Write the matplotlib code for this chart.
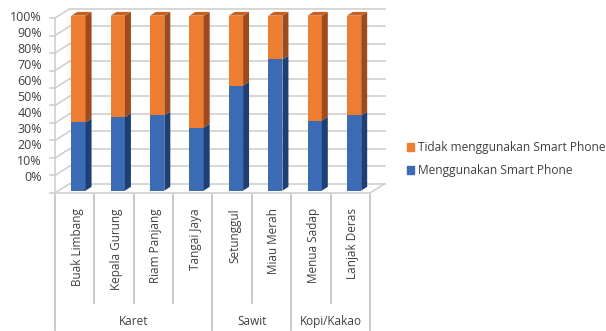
#!/usr/bin/env python3
"""Stacked 100% column chart (3-D look) of smart phone use per village."""
import numpy as np
import matplotlib
matplotlib.use('Agg')
import matplotlib.pyplot as plt
from matplotlib.patches import Polygon, Patch

plt.rcParams['font.family'] = ['Open Sans', 'DejaVu Sans']

villages = ['Buak Limbang', 'Kepala Gurung', 'Riam Panjang', 'Tangai Jaya',
            'Setunggul', 'Miau Merah', 'Menua Sadap', 'Lanjak Deras']
groups = ['Karet', 'Sawit', 'Kopi/Kakao']
group_sizes = [4, 2, 2]
pakai = [39, 42, 43, 36, 60, 75, 40, 43]          # Menggunakan Smart Phone (%)
tidak = [61, 58, 57, 64, 40, 25, 60, 57]          # Tidak menggunakan Smart Phone (%)
y_ticks = [0, 10, 20, 30, 40, 50, 60, 70, 80, 90, 100]

ORANGE, ORANGE_SIDE, ORANGE_TOP = '#ED7D31', '#9E4A1F', '#C8601F'
BLUE, BLUE_SIDE = '#3C6BB6', '#1E3F74'
GRID = '#D0D0D0'
TXT = '#404040'

# depth of the "3-D" box and of the bars, in data units
DX, DY = 0.38, 0.054
BAR_W = 0.363
BOFF = 0.25          # bars sit a quarter of the way into the box
BDEP = 0.40          # bar depth relative to the box

fig = plt.figure(figsize=(6.06, 3.31), dpi=100)
ax = fig.add_axes([0, 0, 1, 1])
ax.set_xlim(-1.397, 13.994)
ax.set_ylim(-0.789, 1.103)
ax.axis('off')

n = len(villages)
frac_p = np.array(pakai) / 100
frac_t = np.array(tidak) / 100

# back wall + side wall gridlines
for t in y_ticks:
    y = t / 100
    ax.plot([DX, n + DX], [y + DY, y + DY], color=GRID, lw=1.2, zorder=1)
    ax.plot([0, DX], [y, y + DY], color=GRID, lw=1.2, zorder=1)
    ax.plot([-0.13, 0], [y, y], color=GRID, lw=1.2, zorder=1)
# floor front/right edges and left front edge
ax.plot([0, n], [0, 0], color=GRID, lw=1.2, zorder=1)
ax.plot([n, n + DX], [0, DY], color=GRID, lw=1.2, zorder=1)
ax.plot([0, 0], [0, 1], color=GRID, lw=1.2, zorder=1)

# y labels (spaced as in the source image)
for k, t in enumerate(y_ticks):
    ax.text(-0.33, 0.0857 + 0.0920 * k, f'{t}%', ha='right', va='center',
            fontsize=9, color=TXT)

# bars
xs = np.arange(n) + 0.5 + BOFF * DX
off = BOFF * DY
ax.bar(xs, frac_p, width=BAR_W, bottom=off, color=BLUE, zorder=3)
ax.bar(xs, frac_t, width=BAR_W, bottom=frac_p + off, color=ORANGE, zorder=3)
bdx, bdy = BDEP * DX, BDEP * DY
for x, p, t in zip(xs, frac_p, frac_t):
    xl, xr = x - BAR_W / 2, x + BAR_W / 2
    for b, h, c in [(off, p, BLUE_SIDE), (off + p, t, ORANGE_SIDE)]:
        ax.add_patch(Polygon([(xr, b), (xr + bdx, b + bdy), (xr + bdx, b + h + bdy),
                              (xr, b + h)], closed=True, fc=c, ec='none', zorder=3))
    top = off + p + t
    ax.add_patch(Polygon([(xl, top), (xl + bdx, top + bdy), (xr + bdx, top + bdy),
                          (xr, top)], closed=True, fc=ORANGE_TOP, ec='none', zorder=3))

# category axis (two levels)
bounds = np.cumsum([0] + group_sizes)
for i in range(n + 1):
    low = -0.783 if i in bounds else -0.629
    ax.plot([i, i], [-0.01, low], color='#BFBFBF', lw=1.2, zorder=1)
for i, name in enumerate(villages):
    ax.text(i + 0.56, -0.086, name, rotation=90, ha='center', va='top',
            fontsize=8.5, color=TXT)
for g, a, b in zip(groups, bounds[:-1], bounds[1:]):
    ax.text((a + b) / 2, -0.737, g, ha='center', va='center', fontsize=8.5, color=TXT)

handles = [Patch(color=ORANGE, label='Tidak menggunakan Smart Phone'),
           Patch(color=BLUE, label='Menggunakan Smart Phone')]
ax.legend(handles=handles, loc='center left', bbox_to_anchor=(0.662, 0.52),
          frameon=False, fontsize=8.55, handlelength=0.62, handleheight=0.62,
          handletextpad=0.3, labelspacing=0.85, labelcolor=TXT, borderpad=0)

fig.savefig('out.png', dpi=100)
